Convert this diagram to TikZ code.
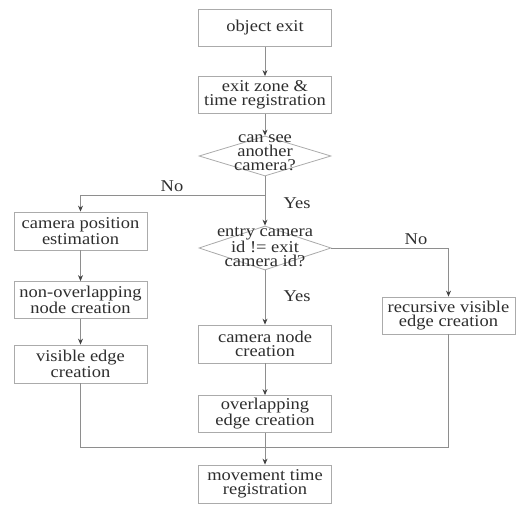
\documentclass[tikz,border=0pt]{standalone}
\usepackage{fontspec}
\setmainfont{Liberation Serif}[FakeStretch=1.12]
\usepackage{tikz}
\usetikzlibrary{arrows.meta, positioning, shapes.geometric}

\definecolor{boxgray}{HTML}{ABABAB}
\definecolor{linegray}{HTML}{8E8E8E}
\definecolor{txtgray}{HTML}{2E2E2E}

\tikzset{
  block/.style={draw=boxgray, line width=0.8pt, rectangle, minimum width=133pt, minimum height=37pt,
    inner sep=0pt, align=center, text=txtgray, font=\fontsize{16.5}{14}\selectfont},
  decision/.style={draw=boxgray, line width=0.8pt, diamond, minimum width=132pt, minimum height=40pt,
    inner sep=0pt, text=txtgray},
  dtext/.style={align=center, text=txtgray, font=\fontsize{16.5}{14}\selectfont},
  flow/.style={draw=linegray, line width=0.8pt, -{Stealth[length=6pt, width=5pt, color=txtgray!90]}},
  merger/.style={draw=linegray, line width=0.8pt},
  lbl/.style={text=txtgray, font=\fontsize{16.5}{14}\selectfont}
}

\begin{document}
\begin{tikzpicture}[x=1pt, y=1pt, node distance=60pt, on grid]
  \useasboundingbox (0,0) rectangle (522,-505);
  % middle column
  \node[block] (exit) at (265,-28) {object exit};
  \node[block] (zone) [below=67pt of exit] {exit zone \&\\time registration};
  \node[decision, label={[dtext, yshift=3pt]center:{can see\\another\\camera?}}] (seecam) [below=61pt of zone] {};
  \node[decision, minimum height=44pt, label={[dtext, yshift=1pt]center:{entry camera\\id != exit\\camera id?}}] (idcheck) [below=92pt of seecam] {};
  \node[block, minimum height=38pt] (camnode) [below=96pt of idcheck] {camera node\\creation};
  \node[block] (overlap) [below=70pt of camnode] {overlapping\\edge creation};
  \node[block, minimum height=38pt] (movement) [below=70pt of overlap] {movement time\\registration};
  % left column
  \node[block, minimum height=38pt] (campos) at (80.5,-231) {camera position\\estimation};
  \node[block] (nonover) [below=69pt of campos] {non-overlapping\\node creation};
  \node[block, minimum height=38pt] (visedge) [below=64pt of nonover] {visible edge\\creation};
  % right column
  \node[block] (recur) at (448.5,-315.5) {recursive visible\\edge creation};

  \coordinate (split) at (265,-195);
  \coordinate (merge) at (265,-447);

  \path[flow] (exit) -- (zone);
  \path[flow] (zone) -- (seecam);
  \path[flow] (seecam.south) -- (idcheck.north);
  \path[flow] (split) -| (campos.north);
  \path[flow] (campos) -- (nonover);
  \path[flow] (nonover) -- (visedge);
  \path[flow] (idcheck.south) -- (camnode.north);
  \path[flow] (idcheck.east) -| (recur.north);
  \path[flow] (camnode) -- (overlap);
  \path[flow] (overlap) -- (movement);
  \path[merger] (visedge.south) |- (merge);
  \path[merger] (recur.south) |- (merge);

  \node[lbl] (no1) at (172,-186) {No};
  \node[lbl] (yes1) at (297,-203) {Yes};
  \node[lbl] (no2) at (416,-239) {No};
  \node[lbl] (yes2) at (297,-296) {Yes};
\end{tikzpicture}
\end{document}
